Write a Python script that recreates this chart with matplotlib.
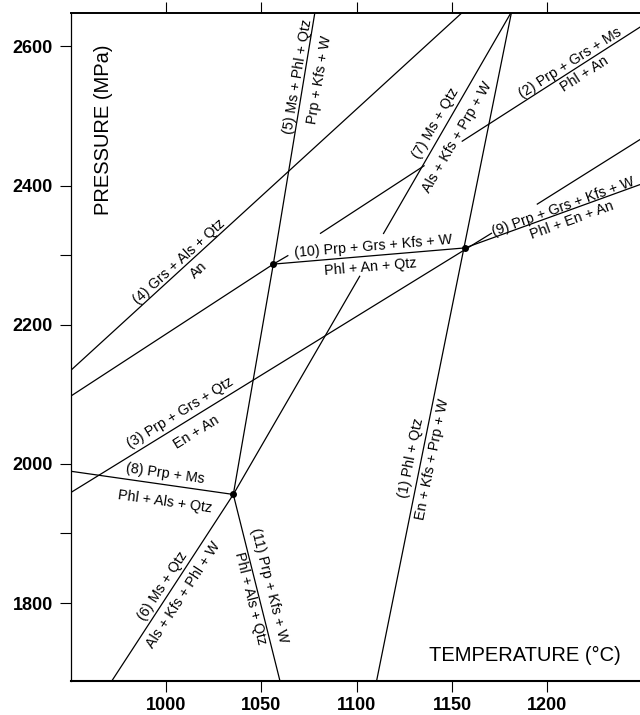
import numpy as np
import matplotlib.pyplot as plt

plt.rcParams['font.family'] = ['Liberation Sans', 'DejaVu Sans']

# invariant points (T in degC, P in MPa)
inv_T = [1056.2, 1035.2, 1156.8]
inv_P = [2287.1, 1956.1, 2310.4]

# reaction curves, nan marks a break where a label sits on the curve
r1_T = [1181.3, 1110.4]
r1_P = [2650, 1688]
r2_T = [1155.1, 1250]
r2_P = [2463.3, 2630]
r3_T = [950, 1171, np.nan, 1194.5, 1250]
r3_P = [1959, 2331.9, np.nan, 2372.9, 2468.4]
r4_T = [950, 1155.9]
r4_P = [2134.7, 2650]
r5_T = [1078.1, 1056.2, 1035.2]
r5_P = [2650, 2287.1, 1956.1]
r6_T = [1035.2, 971.4]
r6_P = [1956.1, 1688]
r7_T = [1181.3, 1113.9, np.nan, 1101.7, 1035.2]
r7_P = [2650, 2330.4, np.nan, 2270.4, 1956.1]
r8_T = [950, 1035.2]
r8_P = [1989.4, 1956.1]
r9_T = [1156.8, 1250]
r9_P = [2310.4, 2402.7]
r10_T = [1056.2, 1156.8]
r10_P = [2287.1, 2310.4]
r11_T = [1035.2, 1059.7]
r11_P = [1956.1, 1688]
rx_T = [950, 1056.2, 1064.1, np.nan, 1080.7, 1135.6]
rx_P = [2097.6, 2287.1, 2299.7, np.nan, 2330.9, 2428.9]

curves = {'1': (r1_T, r1_P), '2': (r2_T, r2_P), '3': (r3_T, r3_P),
          '4': (r4_T, r4_P), '5': (r5_T, r5_P), '6': (r6_T, r6_P),
          '7': (r7_T, r7_P), '8': (r8_T, r8_P), '9': (r9_T, r9_P),
          '10': (r10_T, r10_P), '11': (r11_T, r11_P), 'x': (rx_T, rx_P)}

label_text = ['(5) Ms + Phl + Qtz', 'Prp + Kfs + W',
              '(7) Ms + Qtz', 'Als + Kfs + Prp + W',
              '(2) Prp + Grs + Ms', 'Phl + An',
              '(9) Prp + Grs + Kfs + W', 'Phl + En + An',
              '(10) Prp + Grs + Kfs + W', 'Phl + An + Qtz',
              '(3) Prp + Grs + Qtz', 'En + An',
              '(8) Prp + Ms', 'Phl + Als + Qtz',
              '(6) Ms + Qtz', 'Als + Kfs + Phl + W',
              '(11) Prp + Kfs + W', 'Phl + Als + Qtz',
              '(1) Phl + Qtz', 'En + Kfs + Prp + W',
              '(4) Grs + Als + Qtz', 'An']
label_T = [1069.2, 1080.7, 1141.6, 1152.6, 1211.9, 1219.8, 1208.4, 1213.0,
           1108.5, 1107.0, 1007.2, 1015.6, 999.3, 999.3, 998.3, 1008.8,
           1053.9, 1044.0, 1128.5, 1139.5, 1006.7, 1016.8]
label_P = [2556, 2552, 2489, 2470, 2576, 2560, 2370, 2350,
           2313, 2283, 2073, 2045, 1986, 1946, 1825, 1811,
           1825, 1807, 2009, 2006, 2290, 2278]
label_curve = ['5', '5', '7', '7', '2', '2', '9', '9', '10', '10', '3', '3',
               '8', '8', '6', '6', '11', '11', '1', '1', '4', '4']

fig = plt.figure(figsize=(6.4, 7.15), dpi=100)
ax = fig.add_axes([71 / 640, 34 / 715, 571.5 / 640, 668 / 715])
ax.set_xlim(950, 1250)
ax.set_ylim(1688, 2648)

for key, (T, P) in curves.items():
    ax.plot(T, P, color='black', lw=0.9, solid_capstyle='butt')
ax.plot(inv_T, inv_P, 'o', color='black', ms=4, zorder=3)


def curve_angle(key):
    T, P = curves[key]
    pts = np.column_stack([T, P])
    pts = pts[~np.isnan(pts[:, 0])]
    d = ax.transData.transform(pts)
    d = d[np.argsort(d[:, 0])]
    return np.degrees(np.arctan2(d[-1, 1] - d[0, 1], d[-1, 0] - d[0, 0]))


for txt, t, p, key in zip(label_text, label_T, label_P, label_curve):
    ax.text(t, p, txt, rotation=curve_angle(key), rotation_mode='anchor',
            ha='center', va='center', fontsize=10.3)

ax.text(0.056, 0.825, 'PRESSURE (MPa)', transform=ax.transAxes,
        rotation=90, ha='center', va='center', fontsize=14.5)
ax.text(0.7935, 0.038, 'TEMPERATURE (°C)', transform=ax.transAxes,
        ha='center', va='center', fontsize=14.5)

ax.set_xticks([1000, 1050, 1100, 1150, 1200])
ax.set_yticks([1800, 2000, 2200, 2400, 2600])
ax.set_yticks([1900, 2300], minor=True)
ax.tick_params(axis='both', which='both', direction='out', length=8,
               width=0.8, labelsize=13)
ax.tick_params(axis='x', top=True, pad=3.5)
ax.tick_params(axis='y', pad=5)
for lbl in ax.get_xticklabels() + ax.get_yticklabels():
    lbl.set_fontweight('bold')

ax.spines['right'].set_visible(False)
ax.spines['left'].set_linewidth(0.9)
ax.spines['bottom'].set_linewidth(1.5)
ax.spines['top'].set_linewidth(1.4)

fig.savefig('out.png', dpi=100)
